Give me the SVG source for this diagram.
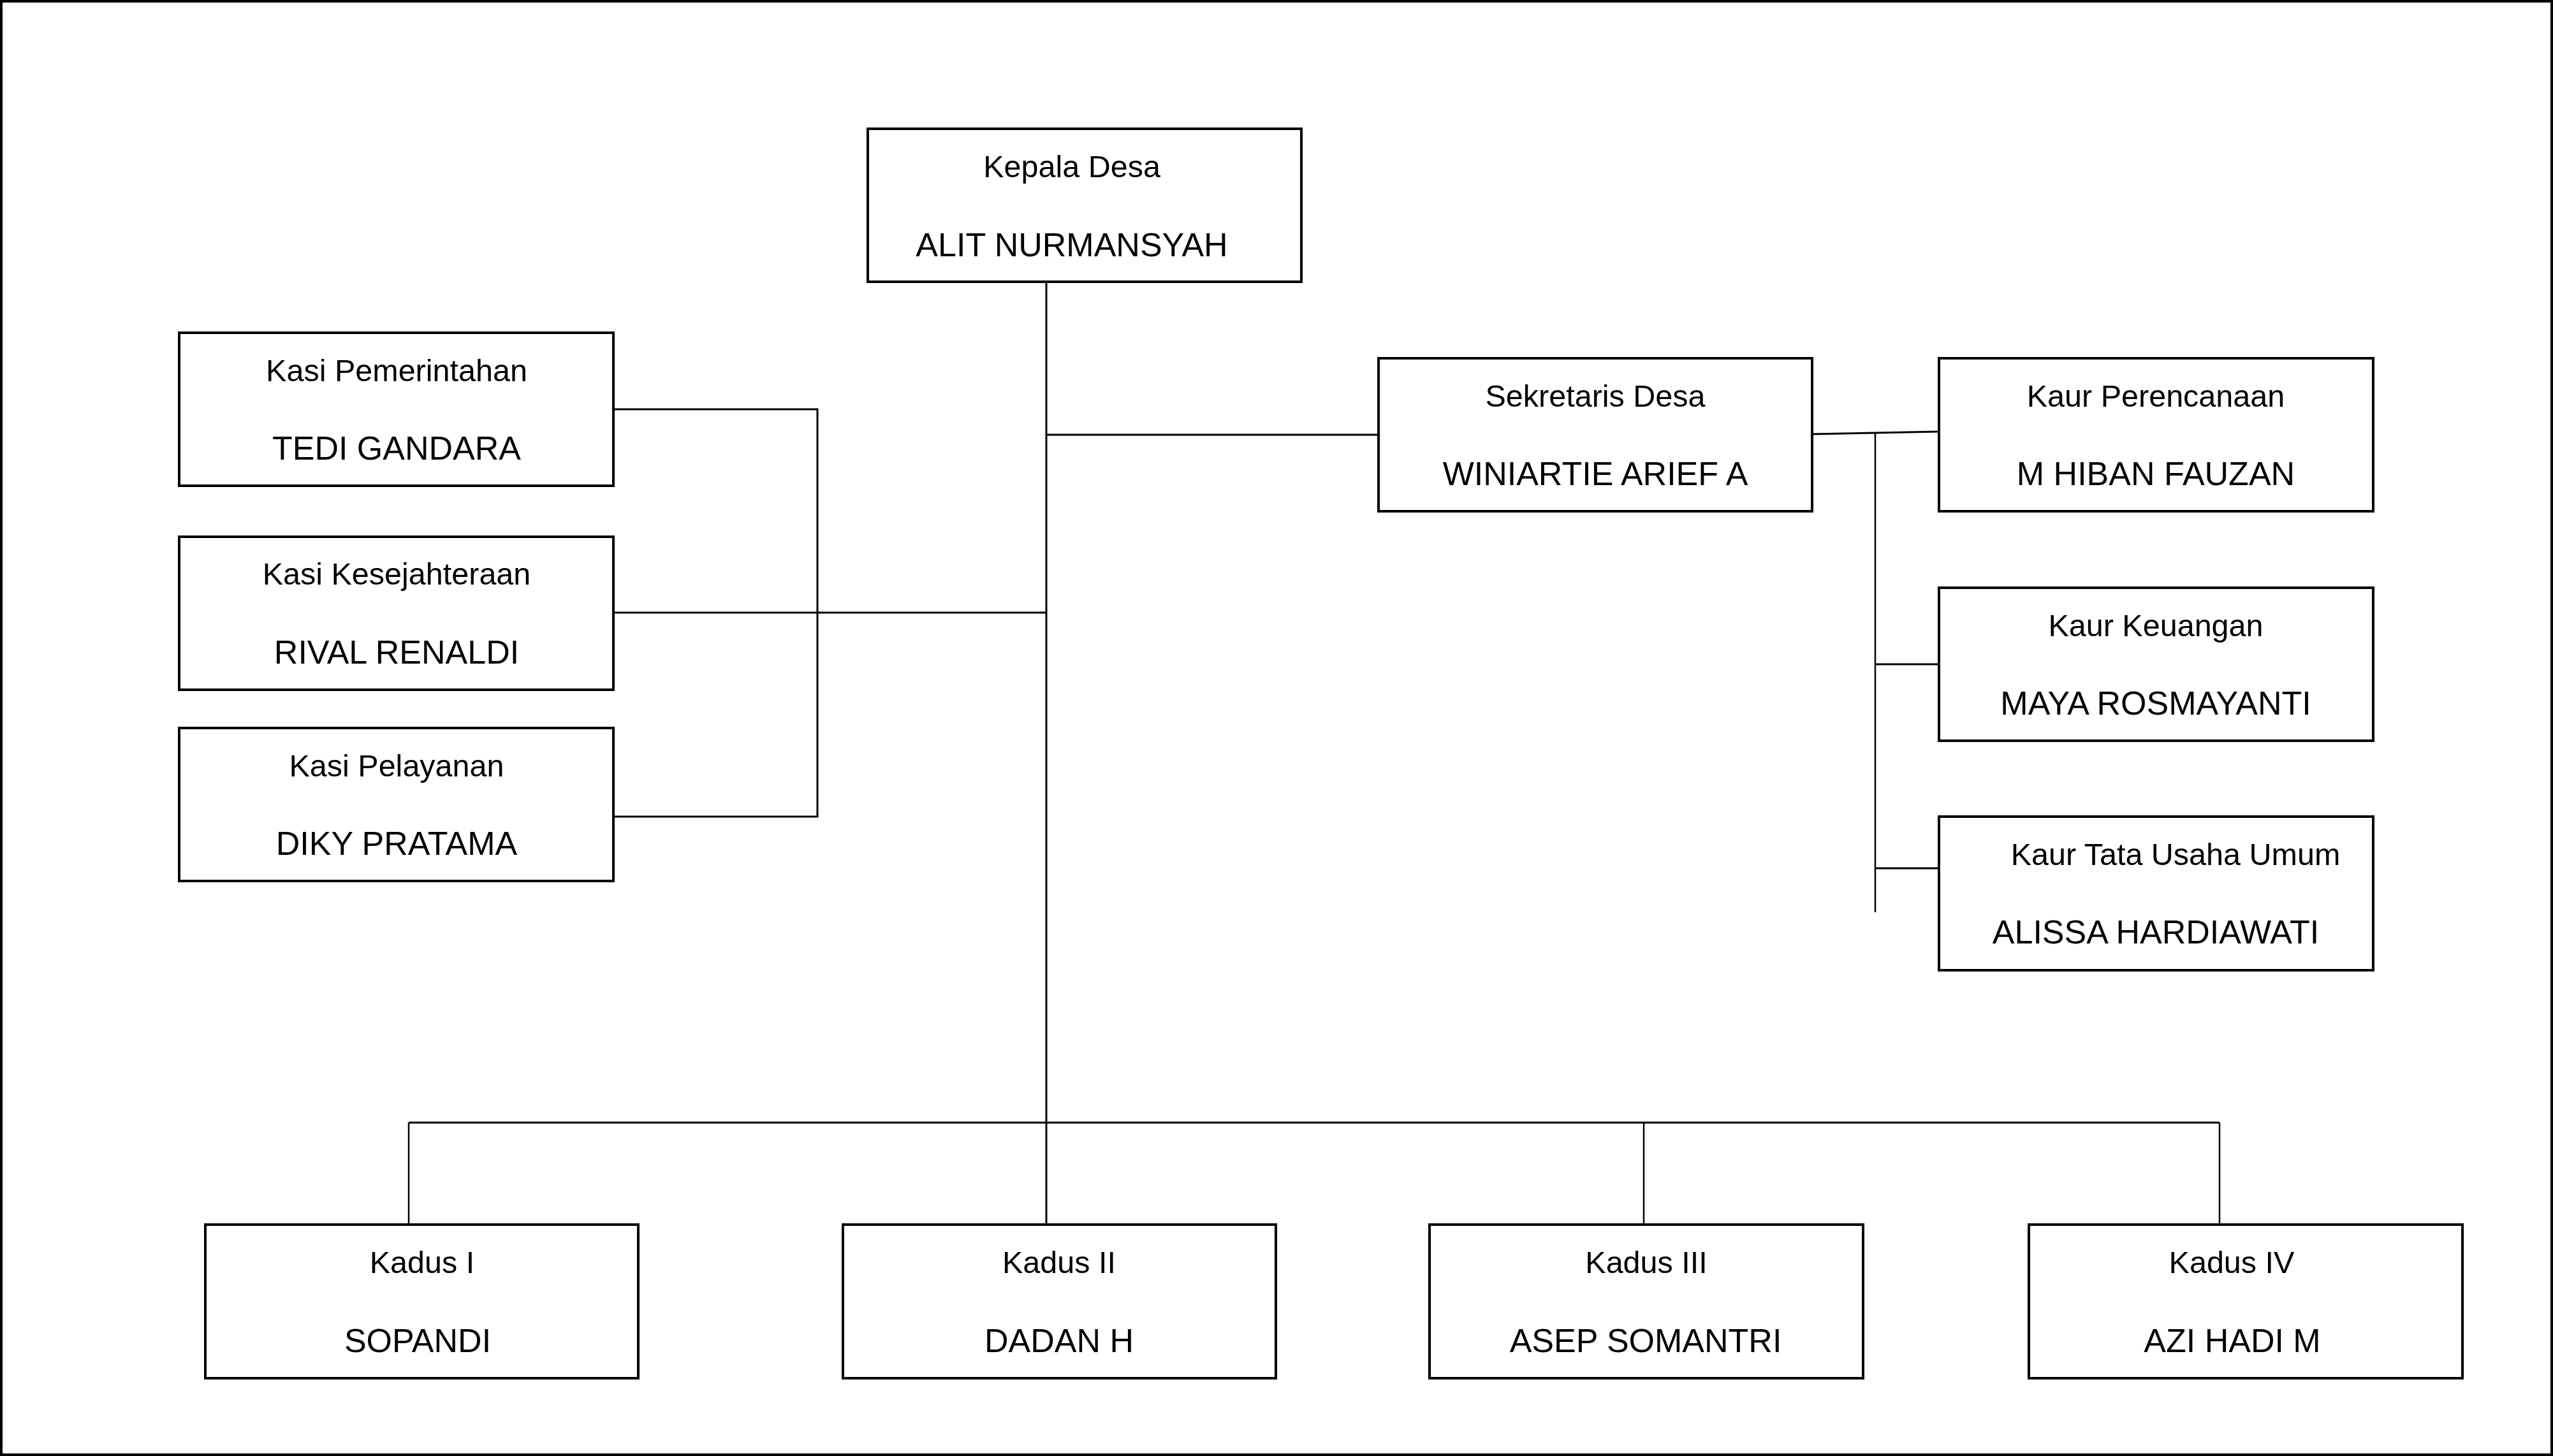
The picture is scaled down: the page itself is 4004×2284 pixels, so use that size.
<svg xmlns="http://www.w3.org/2000/svg" width="4004" height="2284" viewBox="0 0 4004 2284">
<style>
.box{fill:#ffffff;stroke:#000000;stroke-width:4}
.ln{fill:none;stroke:#000000;stroke-width:3}
.thin{fill:none;stroke:#000000;stroke-width:2.5}
.t{font-family:"Liberation Sans",Arial,sans-serif;font-size:48.5px;fill:#000000;text-anchor:middle}
.n{font-family:"Liberation Sans",Arial,sans-serif;font-size:52px;fill:#000000;text-anchor:middle}
</style>
<rect x="0" y="0" width="4004" height="2284" fill="#ffffff"/>
<rect x="2" y="2" width="4000" height="2280" fill="none" stroke="#000000" stroke-width="4"/>
<g id="connectors">
<line class="ln" x1="1641" y1="442" x2="1641" y2="1921"/>
<line class="ln" x1="1641" y1="682" x2="2162" y2="682"/>
<line class="ln" x1="962" y1="961" x2="1641" y2="961"/>
<polyline class="ln" points="962,642 1282,642 1282,1281 962,1281"/>
<line class="ln" x1="2842" y1="681" x2="3041" y2="677"/>
<line class="thin" x1="2941" y1="680" x2="2941" y2="1431"/>
<line class="ln" x1="2941" y1="1042" x2="3041" y2="1042"/>
<line class="ln" x1="2941" y1="1362" x2="3041" y2="1362"/>
<line class="ln" x1="641" y1="1761" x2="3481" y2="1761"/>
<line class="thin" x1="641" y1="1761" x2="641" y2="1921"/>
<line class="thin" x1="2578" y1="1761" x2="2578" y2="1921"/>
<line class="thin" x1="3481" y1="1761" x2="3481" y2="1921"/>
</g>
<g id="kepala-desa">
<rect class="box" x="1361" y="202" width="680" height="240"/>
<text class="t" x="1681" y="278">Kepala Desa</text>
<text class="n" x="1681" y="402">ALIT NURMANSYAH</text>
</g>
<g id="kasi-pemerintahan">
<rect class="box" x="281" y="522" width="681" height="240"/>
<text class="t" x="622" y="598">Kasi Pemerintahan</text>
<text class="n" x="622" y="721">TEDI GANDARA</text>
</g>
<g id="kasi-kesejahteraan">
<rect class="box" x="281" y="842" width="681" height="240"/>
<text class="t" x="622" y="917">Kasi Kesejahteraan</text>
<text class="n" x="622" y="1041">RIVAL RENALDI</text>
</g>
<g id="kasi-pelayanan">
<rect class="box" x="281" y="1142" width="681" height="240"/>
<text class="t" x="622" y="1218">Kasi Pelayanan</text>
<text class="n" x="622" y="1341">DIKY PRATAMA</text>
</g>
<g id="sekretaris-desa">
<rect class="box" x="2162" y="562" width="680" height="240"/>
<text class="t" x="2502" y="638">Sekretaris Desa</text>
<text class="n" x="2502" y="761">WINIARTIE ARIEF A</text>
</g>
<g id="kaur-perencanaan">
<rect class="box" x="3041" y="562" width="681" height="240"/>
<text class="t" x="3381" y="638">Kaur Perencanaan</text>
<text class="n" x="3381" y="761">M HIBAN FAUZAN</text>
</g>
<g id="kaur-keuangan">
<rect class="box" x="3041" y="922" width="681" height="240"/>
<text class="t" x="3381" y="998">Kaur Keuangan</text>
<text class="n" x="3381" y="1121">MAYA ROSMAYANTI</text>
</g>
<g id="kaur-tata-usaha-umum">
<rect class="box" x="3041" y="1281" width="681" height="241"/>
<text class="t" x="3412" y="1357">Kaur Tata Usaha Umum</text>
<text class="n" x="3381" y="1480">ALISSA HARDIAWATI</text>
</g>
<g id="kadus-1">
<rect class="box" x="322" y="1921" width="679" height="241"/>
<text class="t" x="662" y="1997">Kadus I</text>
<text class="n" x="655" y="2121">SOPANDI</text>
</g>
<g id="kadus-2">
<rect class="box" x="1322" y="1921" width="679" height="241"/>
<text class="t" x="1661" y="1997">Kadus II</text>
<text class="n" x="1661" y="2121">DADAN H</text>
</g>
<g id="kadus-3">
<rect class="box" x="2242" y="1921" width="680" height="241"/>
<text class="t" x="2582" y="1997">Kadus III</text>
<text class="n" x="2581" y="2121">ASEP SOMANTRI</text>
</g>
<g id="kadus-4">
<rect class="box" x="3182" y="1921" width="680" height="241"/>
<text class="t" x="3500" y="1997">Kadus IV</text>
<text class="n" x="3501" y="2121">AZI HADI M</text>
</g>
</svg>
